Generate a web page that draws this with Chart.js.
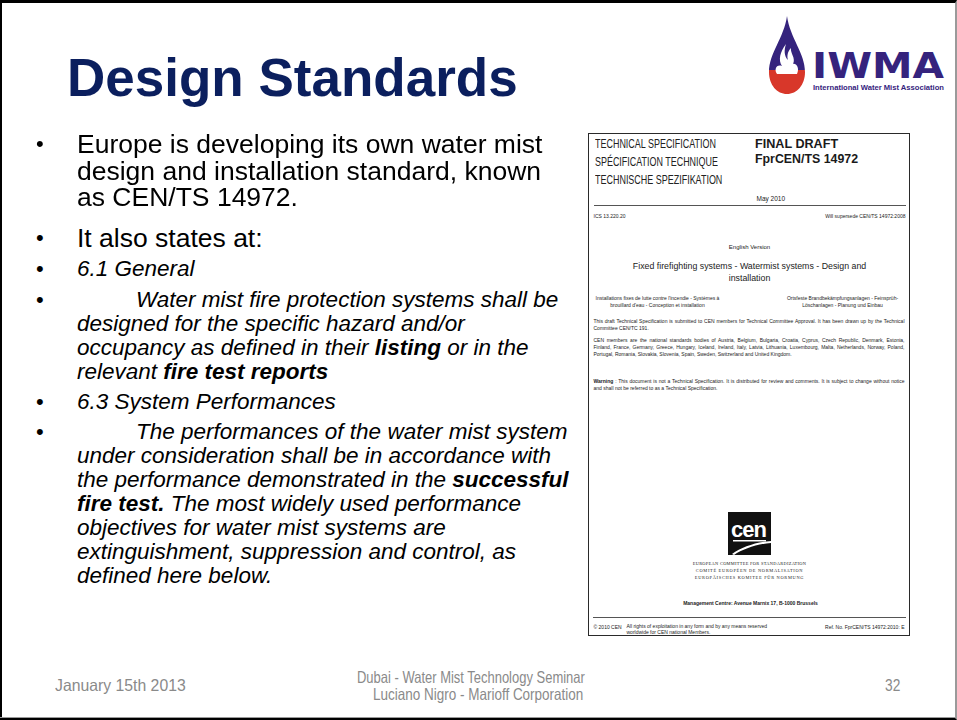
<!DOCTYPE html>
<html><head><meta charset="utf-8">
<script src="https://cdn.jsdelivr.net/npm/chart.js@4/dist/chart.umd.min.js"></script>
<style>
html,body{margin:0;padding:0;background:#fff;}
body{width:957px;height:720px;position:relative;overflow:hidden;font-family:"Liberation Sans",Arial,sans-serif;}
#frame{position:absolute;left:0;top:0;width:957px;height:720px;box-sizing:border-box;border-top:3px solid #000;border-left:2px solid #000;border-right:2px solid #9a9a9a;border-bottom:2px solid #000;}
#bline{position:absolute;left:0;top:717px;width:957px;height:1px;background:#9a9a9a;}
#title{position:absolute;left:67px;top:48px;font-size:53px;font-weight:bold;color:#0b1f5e;line-height:60px;white-space:nowrap;}
.b{position:absolute;left:77px;color:#000;white-space:nowrap;}
.dot{position:absolute;left:36px;font-size:22px;line-height:22px;}
.big{font-size:26.5px;line-height:26.5px;}
.it{font-style:italic;font-size:22.5px;line-height:24px;}
#doc{position:absolute;left:588px;top:133px;width:322px;height:503px;box-sizing:border-box;border:1.5px solid #2a2a2a;background:#fff;}
.d{position:absolute;white-space:nowrap;color:#222;}
.c{transform:translateX(-50%);text-align:center;}
.r{transform:translateX(-100%);}
.j{text-align:justify;text-align-last:justify;white-space:normal;}
.fit{transform-origin:0 0;}
.foot{position:absolute;color:#8a8a8a;font-size:16.5px;line-height:17px;white-space:nowrap;transform-origin:0 0;}
#chartbox{position:absolute;left:0;top:0;width:957px;height:720px;pointer-events:none;}
</style></head>
<body>
<div id="frame"></div><div id="bline"></div>
<div id="chartbox"><canvas id="c"></canvas></div>
<div id="title"></div>
<div id="body"></div>
<svg style="position:absolute;left:760px;top:8px" width="192" height="92" viewBox="0 0 192 92">
  <defs><clipPath id="dropc"><path d="M27 8 C30 30 45 45 45 64 C45 77 37 86 27 86 C17 86 9 77 9 64 C9 45 24 30 27 8 Z"/></clipPath></defs>
  <g clip-path="url(#dropc)">
    <rect x="0" y="0" width="60" height="62" fill="#35237d"/>
    <rect x="0" y="62" width="60" height="30" fill="#d8372a"/>
  </g>
  <path d="M26 36 C20 44 18 52 22 58 C16 56 14 62 17 66 L37 66 C40 60 36 55 33 56 C36 50 30 45 31 40 C27 44 27 49 28 52 C24 48 24 42 26 36 Z" fill="#fff"/>
  <g transform="translate(52,70) scale(1,1.25)">
    <text x="0" y="0" font-family="DejaVu Sans" font-weight="bold" font-size="29" fill="#35237d" textLength="132" lengthAdjust="spacingAndGlyphs">IWMA</text>
  </g>
  <text x="53" y="82" font-family="Liberation Sans" font-weight="bold" font-size="7" fill="#35237d" textLength="131" lengthAdjust="spacingAndGlyphs">International Water Mist Association</text>
</svg>
<div id="doc"></div>
<div id="footer"></div>
<script>
// ---- slide content ----
const titleText = "Design Standards";
const bulletBlocks = [
  {cls:"big", top:131, html:["Europe is developing its own water mist","design and installation standard, known","as CEN/TS 14972."]},
  {cls:"big", top:225, html:["It also states at:"]},
  {cls:"it",  top:257, html:["6.1 General"]},
  {cls:"it",  top:288, html:["<span style='padding-left:59px'></span>Water mist fire protection systems shall be","designed for the specific hazard and/or","occupancy as defined in their <b>listing</b> or in the","relevant <b>fire test reports</b>"]},
  {cls:"it",  top:390, html:["6.3 System Performances"]},
  {cls:"it",  top:420, html:["<span style='padding-left:59px'></span>The performances of the water mist system","under consideration shall be in accordance with","the performance demonstrated in the <b>successful</b>","<b>fire test.</b> The most widely used performance","objectives for water mist systems are","extinguishment, suppression and control, as","defined here below."]}
];
const footerLeft = "January  15th  2013";
const footerCenter = ["Dubai - Water Mist  Technology  Seminar","Luciano Nigro - Marioff Corporation"];
const footerRight = "32";

// document thumbnail texts: [x, centerY, size, text, classes, extraStyle, fitWidth]
const docTexts = [
  [595,145,12,"TECHNICAL SPECIFICATION","fit","",121],
  [595,163,12,"SPÉCIFICATION TECHNIQUE","fit","",123],
  [595,181,12,"TECHNISCHE SPEZIFIKATION","fit","",127],
  [755,145,12,"FINAL DRAFT","fit","font-weight:bold;color:#1a1a1a",83],
  [755,160,12,"FprCEN/TS 14972","fit","font-weight:bold;color:#1a1a1a",103],
  [757,199,6.5,"May 2010","","",0],
  [594,216,5,"ICS 13.220.20","","",0],
  [906,216,5,"Will supersede CEN/TS 14972:2008","r","",0],
  [750,248,6,"English Version","c","",0],
  [750,267,8.8,"Fixed firefighting systems - Watermist systems - Design and","c","",0],
  [750,279,8.8,"installation","c","",0],
  [658,298,5,"Installations fixes de lutte contre l'incendie - Systèmes à","c","",0],
  [658,305,5,"brouillard d'eau - Conception et installation","c","",0],
  [843,298,5,"Ortsfeste Brandbekämpfungsanlagen - Feinsprüh-","c","",0],
  [843,305,5,"Löschanlagen - Planung und Einbau","c","",0],
  [594,321,5,"This draft Technical Specification is submitted to CEN members for Technical Committee Approval. It has been drawn up by the Technical","j","width:311px",0],
  [594,328,5,"Committee CEN/TC 191.","","",0],
  [594,340,5,"CEN members are the national standards bodies of Austria, Belgium, Bulgaria, Croatia, Cyprus, Czech Republic, Denmark, Estonia,","j","width:311px",0],
  [594,347,5,"Finland, France, Germany, Greece, Hungary, Iceland, Ireland, Italy, Latvia, Lithuania, Luxembourg, Malta, Netherlands, Norway, Poland,","j","width:311px",0],
  [594,354,5,"Portugal, Romania, Slovakia, Slovenia, Spain, Sweden, Switzerland and United Kingdom.","","",0],
  [594,381,5,"<b>Warning</b> : This document is not a Technical Specification. It is distributed for review and comments. It is subject to change without notice","j","width:311px",0],
  [594,388,5,"and shall not be referred to as a Technical Specification.","","",0],
  [750,564,4.4,"EUROPEAN COMMITTEE FOR STANDARDIZATION","c","font-family:'Liberation Serif',serif;letter-spacing:0.3px",0],
  [750,571,4.4,"COMITÉ EUROPÉEN DE NORMALISATION","c","font-family:'Liberation Serif',serif;letter-spacing:0.7px",0],
  [750,578,4.4,"EUROPÄISCHES KOMITEE FÜR NORMUNG","c","font-family:'Liberation Serif',serif;letter-spacing:0.7px",0],
  [751,603,5,"Management Centre:  Avenue Marnix 17,  B-1000 Brussels","c","font-weight:bold",0],
  [594,627,5,"© 2010 CEN","","",0],
  [627,626,5,"All rights of exploitation in any form and by any means reserved","","",0],
  [627,632,5,"worldwide for CEN national Members.","","",0],
  [905,627,5,"Ref. No. FprCEN/TS 14972:2010: E","r","",0]
];

function fitW(el, w){ const nat = el.scrollWidth || el.getBoundingClientRect().width; if(nat>0) el.style.transform = 'scaleX('+(w/nat)+')'; }

// ---- build DOM ----
document.getElementById('title').textContent = titleText;
const body = document.getElementById('body');
bulletBlocks.forEach(b=>{
  const lh = b.cls==="big"?26.5:24;
  const d=document.createElement('div');
  d.className='b '+b.cls; d.style.top=b.top+'px';
  d.innerHTML=b.html.join('<br>');
  body.appendChild(d);
  const dot=document.createElement('div');
  dot.className='dot'; dot.textContent='•';
  dot.style.top=(b.top + lh/2 - 11)+'px';
  body.appendChild(dot);
});
const doc=document.getElementById('doc');
const ox=588+1.5, oy=133+1.5;
docTexts.forEach(t=>{
  const [x,cy,s,txt,cls,st,fw]=t;
  const d=document.createElement('div');
  d.className='d '+cls;
  d.style.cssText += `left:${x-ox}px;top:${cy-oy-s*0.6}px;font-size:${s}px;line-height:${s*1.2}px;`+st;
  d.innerHTML=txt;
  doc.appendChild(d);
  if(fw) fitW(d, fw);
});
function addEl(css,html){const e=document.createElement('div');e.style.cssText='position:absolute;'+css;if(html)e.innerHTML=html;doc.appendChild(e);}
addEl(`left:${594-ox}px;top:${205-oy}px;width:312px;height:1px;background:#555`);
addEl(`left:${593-ox}px;top:${617-oy}px;width:313px;height:1px;background:#555`);
addEl(`left:${728-ox}px;top:${512-oy}px;width:43px;height:43px;background:#111;overflow:hidden`,
 `<svg width="43" height="43" viewBox="0 0 43 43"><text x="3" y="25" font-family="Liberation Sans" font-weight="bold" font-size="22" fill="#fff" letter-spacing="-1">cen</text><path d="M4 42 C14 35 28 30 43 29 L43 31 C29 32 15 37 6 43 Z" fill="#fff"/><rect x="5" y="28" width="33" height="1.5" fill="#fff"/></svg>`);

const foot=document.getElementById('footer');
function addFoot(left,top,txt,w){const e=document.createElement('div');e.className='foot';e.style.left=left+'px';e.style.top=top+'px';e.textContent=txt;foot.appendChild(e);if(w)fitW(e,w);}
addFoot(55,677,footerLeft,131);
addFoot(357,669,footerCenter[0],228);
addFoot(373,686,footerCenter[1],210);
addFoot(885,677,footerRight,15);

// Chart.js canvas layer (this slide carries no data marks)
const ctx=document.getElementById('c');
new Chart(ctx,{type:'scatter',data:{datasets:[{data:[]}]},
  options:{responsive:false,animation:false,events:[],plugins:{legend:{display:false},tooltip:{enabled:false}},
  scales:{x:{display:false},y:{display:false}}}});
</script>
</body></html>
